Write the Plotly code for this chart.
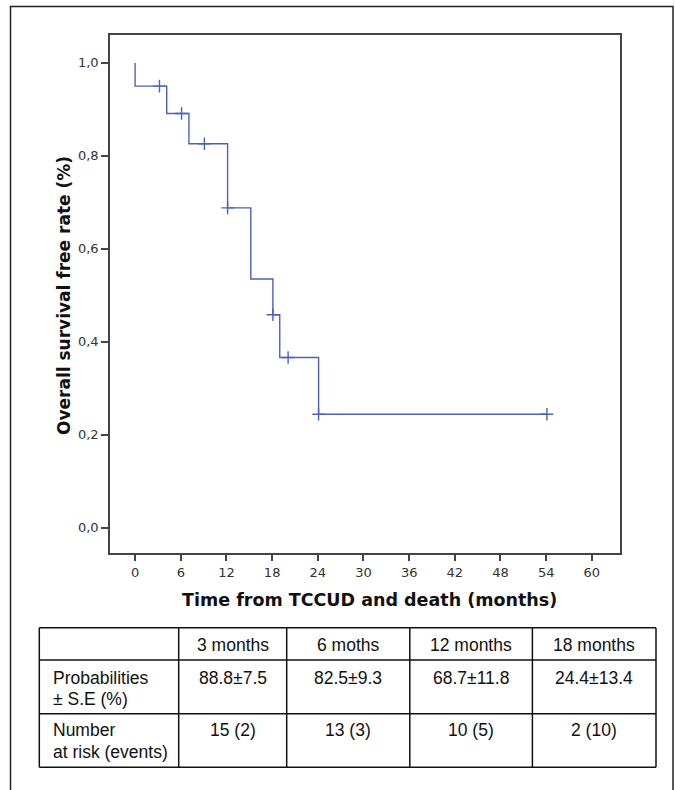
import plotly.graph_objects as go

# Kaplan-Meier curve
event_times = [0.0, 0.0, 4.15, 7.07, 12.15, 15.2, 18.1, 19.0, 24.1, 54.1]
survival = [1.0, 0.950, 0.891, 0.826, 0.688, 0.535, 0.458, 0.366, 0.244, 0.244]

censor_times = [3.2, 6.1, 9.1, 12.15, 18.1, 20.1, 24.1, 54.1]
censor_surv = [0.950, 0.891, 0.826, 0.688, 0.458, 0.366, 0.244, 0.244]

x_ticks = [0, 6, 12, 18, 24, 30, 36, 42, 48, 54, 60]
y_ticks = [0.0, 0.2, 0.4, 0.6, 0.8, 1.0]

# Table
table_header = ["3 months", "6 moths", "12 months", "18 months"]
row_labels = [["Probabilities", "± S.E (%)"], ["Number", "at risk (events)"]]
probabilities = ["88.8±7.5", "82.5±9.3", "68.7±11.8", "24.4±13.4"]
at_risk = ["15 (2)", "13 (3)", "10 (5)", "2 (10)"]

W, H = 675, 790
blue = "#4a62b8"
frame = "#444444"
ink = "#111111"


def px(x):
    return x / W


def py(y):
    return 1 - y / H


fig = go.Figure()
fig.add_trace(go.Scatter(
    x=event_times, y=survival, mode="lines", line=dict(color=blue, width=1.4, shape="hv"),
    showlegend=False, hoverinfo="skip"))
fig.add_trace(go.Scatter(
    x=censor_times, y=censor_surv, mode="markers",
    marker=dict(symbol="cross-thin", size=9, line=dict(color=blue, width=1.4)),
    showlegend=False, hoverinfo="skip"))

# ---- table geometry (layout only) ----
col_edges = [39.3, 178.7, 286.7, 409.8, 532.4, 656.0]
row_edges = [627.7, 660.0, 713.7, 767.3]
tfont = dict(family="Liberation Sans, Arial", size=17.5, color=ink)

shapes = [dict(type="rect", xref="paper", yref="paper", x0=px(10.5), x1=px(673),
               y0=-0.01, y1=py(6.5), line=dict(color="#222222", width=1.5))]
for xe in col_edges:
    shapes.append(dict(type="line", xref="paper", yref="paper", x0=px(xe), x1=px(xe),
                       y0=py(row_edges[0]), y1=py(row_edges[-1]),
                       line=dict(color=ink, width=1.5)))
for ye in row_edges:
    shapes.append(dict(type="line", xref="paper", yref="paper", x0=px(col_edges[0]),
                       x1=px(col_edges[-1]), y0=py(ye), y1=py(ye),
                       line=dict(color=ink, width=1.5)))

annotations = [
    dict(text="<b>Time from TCCUD and death (months)</b>", xref="paper", yref="paper",
         x=px(369), y=py(600), showarrow=False, xanchor="center", yanchor="middle",
         font=dict(family="DejaVu Sans", size=17.5, color=ink)),
    dict(text="<b>Overall survival free rate (%)</b>", xref="paper", yref="paper",
         x=px(64), y=py(296), showarrow=False, textangle=-90, xanchor="center",
         yanchor="middle", font=dict(family="DejaVu Sans", size=17, color=ink)),
]

centers = [(col_edges[i] + col_edges[i + 1]) / 2 for i in range(1, 5)]
header_y = 644.5
row_line_y = [[677.5, 699.0], [730.0, 752.0]]


def add_text(t, x, y, anchor="center"):
    annotations.append(dict(text=t, xref="paper", yref="paper", x=px(x), y=py(y),
                            showarrow=False, xanchor=anchor, yanchor="middle", font=tfont))


for c, t in zip(centers, table_header):
    add_text(t, c, header_y)
for r, lines in enumerate(row_labels):
    for ln, t in enumerate(lines):
        add_text(t, col_edges[0] + 12, row_line_y[r][ln], "left")
for c, t in zip(centers, probabilities):
    add_text(t, c, row_line_y[0][0])
for c, t in zip(centers, at_risk):
    add_text(t, c, row_line_y[1][0])

x0, x1 = px(110), px(620)
y0, y1 = py(552.7), py(35)

tick_font = dict(family="DejaVu Sans", size=13, color="#333333")
fig.update_layout(
    width=W, height=H, margin=dict(l=0, r=0, t=0, b=0),
    paper_bgcolor="white", plot_bgcolor="white",
    separators=",.",
    xaxis=dict(domain=[x0, x1], range=[-3.3, 63.7], tickvals=x_ticks, ticks="outside",
               ticklen=7, tickwidth=1.5, tickcolor=frame, showgrid=False, zeroline=False,
               showline=True, linecolor=frame, linewidth=1.5, mirror=True,
               tickfont=tick_font),
    yaxis=dict(domain=[y0, y1], range=[-0.054, 1.06], tickvals=y_ticks, tickformat=".1f",
               ticks="outside", ticklen=7, tickwidth=1.5, tickcolor=frame, showgrid=False,
               zeroline=False, showline=True, linecolor=frame, linewidth=1.5, mirror=True,
               tickfont=tick_font),
    shapes=shapes,
    annotations=annotations,
)

fig.write_html("out.html", config={"displayModeBar": False},
               post_script="document.body.style.margin='0';document.body.style.overflow='hidden';")
